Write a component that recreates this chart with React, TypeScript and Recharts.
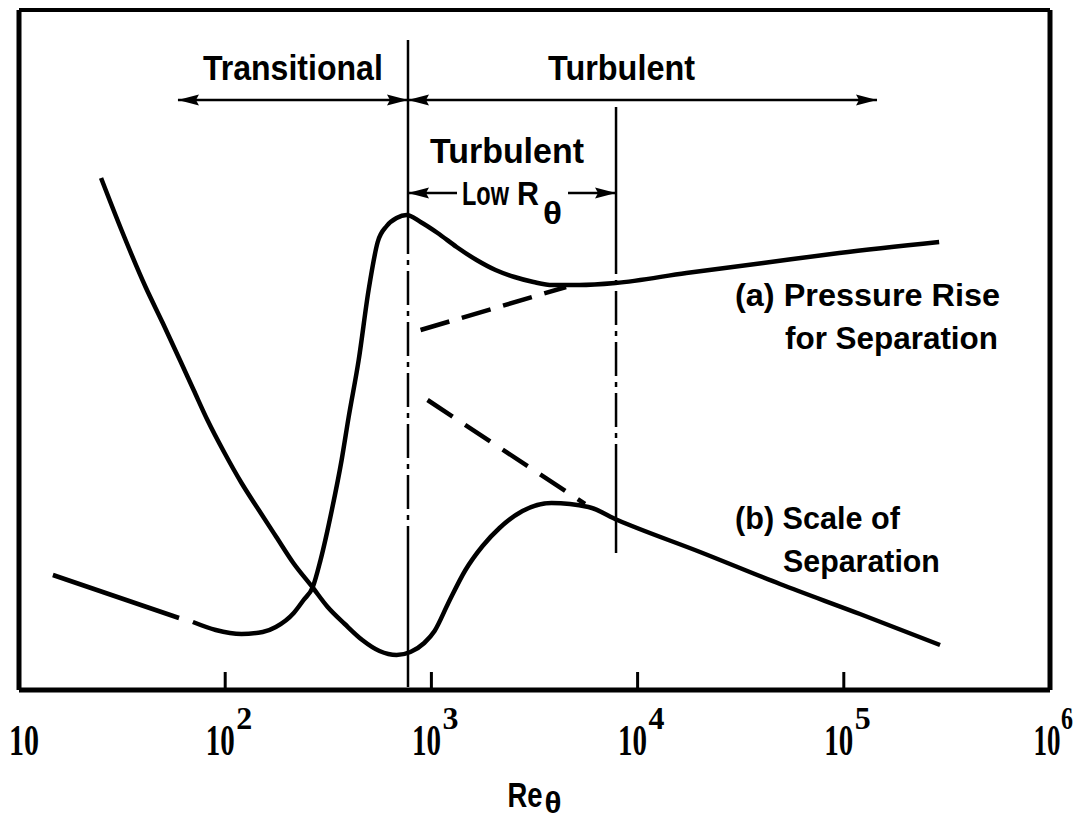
import React from "react";
import { LineChart, Line, XAxis, YAxis, ReferenceLine, ReferenceDot } from "recharts";

const SANS = "'Liberation Sans', Arial, Helvetica, sans-serif";
const SERIF = "'Liberation Serif', 'Times New Roman', serif";
const INK = "#000";

// Re_theta ticks on the log axis
const reTicks = [10, 100, 1000, 10000, 100000, 1000000];

// boundaries between regimes
const reTransition = 770;
const reLowEnd = 7860;

// (a) pressure rise for separation (ordinate in arbitrary units)
const pressureRiseLaminar = [
  { re: 14.6, v: 11.5 },
  { re: 59.7, v: 7.2 },
];
const pressureRise = [
  { re: 69.7, v: 6.8 },
  { re: 90, v: 6.0 },
  { re: 120, v: 5.6 },
  { re: 152, v: 5.8 },
  { re: 176, v: 6.3 },
  { re: 215, v: 7.7 },
  { re: 240, v: 9.0 },
  { re: 266, v: 10.3 },
  { re: 290, v: 13.0 },
  { re: 329, v: 18.0 },
  { re: 367, v: 23.0 },
  { re: 397, v: 27.3 },
  { re: 444, v: 33.0 },
  { re: 496, v: 40.0 },
  { re: 549, v: 44.8 },
  { re: 607, v: 46.4 },
  { re: 678, v: 47.2 },
  { re: 758, v: 47.5 },
  { re: 886, v: 46.8 },
  { re: 1072, v: 45.7 },
  { re: 1325, v: 44.3 },
  { re: 1656, v: 43.0 },
  { re: 2046, v: 42.0 },
  { re: 2530, v: 41.3 },
  { re: 3127, v: 40.8 },
  { re: 3866, v: 40.5 },
  { re: 5224, v: 40.5 },
  { re: 7806, v: 40.7 },
  { re: 17230, v: 41.7 },
  { re: 40690, v: 42.7 },
  { re: 95000, v: 43.7 },
  { re: 290000, v: 44.8 },
];
const pressureRiseExtension = [
  { re: 886, v: 36.0 },
  { re: 4500, v: 40.3 },
];

// (b) scale of separation
const scaleOfSeparation = [
  { re: 25, v: 51.2 },
  { re: 31.4, v: 46.0 },
  { re: 41.1, v: 40.3 },
  { re: 49.8, v: 36.7 },
  { re: 60.3, v: 33.0 },
  { re: 70.3, v: 30.0 },
  { re: 82, v: 27.0 },
  { re: 99.3, v: 23.7 },
  { re: 120, v: 20.7 },
  { re: 145.5, v: 18.0 },
  { re: 177, v: 15.3 },
  { re: 214, v: 12.7 },
  { re: 264.5, v: 10.3 },
  { re: 314, v: 8.3 },
  { re: 380, v: 6.6 },
  { re: 462, v: 5.0 },
  { re: 560, v: 3.9 },
  { re: 678, v: 3.5 },
  { re: 791, v: 3.8 },
  { re: 923, v: 4.7 },
  { re: 1036, v: 5.9 },
  { re: 1208, v: 8.7 },
  { re: 1463, v: 12.0 },
  { re: 1771, v: 14.4 },
  { re: 2140, v: 16.2 },
  { re: 2766, v: 17.9 },
  { re: 3823, v: 18.7 },
  { re: 5775, v: 18.3 },
  { re: 7984, v: 17.0 },
  { re: 20080, v: 13.8 },
  { re: 49050, v: 10.6 },
  { re: 119800, v: 7.6 },
  { re: 292900, v: 4.5 },
];
const scaleExtension = [
  { re: 958, v: 29.0 },
  { re: 5557, v: 18.6 },
];

// text annotations: left edge / baseline in data units
const annotations = [
  { text: "Transitional", re: 78, v: 61.0, size: 35, width: 180 },
  { text: "Turbulent", re: 3678, v: 61.0, size: 35, width: 147 },
  { text: "Turbulent", re: 984.5, v: 52.7, size: 35, width: 154 },
  { text: "(a) Pressure Rise", re: 29680, v: 38.4, size: 32, width: 265 },
  { text: "for Separation", re: 51860, v: 34.1, size: 32, width: 213 },
  { text: "(b) Scale of", re: 29680, v: 16.1, size: 32, width: 165 },
  { text: "Separation", re: 50720, v: 11.8, size: 32, width: 157 },
];

// measure natural text width so condensed labels can be squeezed with a transform
const measureCtx = typeof document !== "undefined" ? document.createElement("canvas").getContext("2d") : null;
const measure = (text: string, size: number, family: string) => {
  if (!measureCtx) return text.length * size * 0.55;
  measureCtx.font = `bold ${size}px ${family}`;
  return measureCtx.measureText(text).width;
};

const FitText = (props: any) => {
  const { x, y, text, size, width, family = SANS, anchor = "start" } = props;
  const sx = width ? Math.min(1.2, width / measure(text, size, family)) : 1;
  return (
    <text
      transform={`translate(${x},${y}) scale(${sx.toFixed(3)},1)`}
      fontFamily={family}
      fontWeight="bold"
      fontSize={size}
      textAnchor={anchor}
      fill={INK}
    >
      {text}
    </text>
  );
};

// arrow shaft + filled heads drawn from the segment end points
const makeArrow = (headStart: boolean, headEnd: boolean) => (props: any) => {
  const { x1, y1, x2, y2 } = props;
  const len = 21;
  const half = 5.5;
  const head = (tx: number, ty: number, dir: number, key: string) => {
    const bx = tx - dir * len;
    return (
      <polygon
        key={key}
        points={`${tx},${ty} ${bx},${ty - half} ${bx + dir * 3},${ty} ${bx},${ty + half}`}
        fill={INK}
      />
    );
  };
  const dir = Math.sign(x2 - x1) || 1;
  return (
    <g>
      <line x1={x1} y1={y1} x2={x2} y2={y2} stroke={INK} strokeWidth={2.5} />
      {headStart && head(x1, y1, -dir, "s")}
      {headEnd && head(x2, y2, dir, "e")}
    </g>
  );
};

const LowRTheta = (props: any) => {
  const { cx, cy } = props;
  return (
    <g>
      <FitText x={cx} y={cy} text="Low" size={34} width={47} />
      <FitText x={cx + 55} y={cy} text="R" size={34} width={22} />
      <FitText x={cx + 81} y={cy + 19} text="θ" size={31} width={19} />
    </g>
  );
};

const LogTick = (props: any) => {
  const { x, y, payload } = props;
  const exp = Math.round(Math.log10(payload.value));
  const base = y + 65;
  if (exp === 1) {
    return <FitText x={x + 5} y={base} text="10" size={44} width={30} family={SERIF} anchor="middle" />;
  }
  const last = exp === 6;
  return (
    <g>
      <FitText x={last ? x - 3 : x - 5} y={base} text="10" size={44} width={last ? 27 : 29} family={SERIF} anchor="middle" />
      <FitText x={last ? x + 11 : x + 11} y={base - 26} text={String(exp)} size={31} width={last ? 12 : 16} family={SERIF} />
    </g>
  );
};

const AxisTitle = (props: any) => {
  const { viewBox } = props;
  const cx = viewBox.x + viewBox.width / 2;
  const y = viewBox.y + 117;
  return (
    <g>
      <FitText x={cx - 27} y={y} text="Re" size={36} width={35} />
      <FitText x={cx + 10} y={y + 6} text="θ" size={29} width={17} />
    </g>
  );
};

export default function App() {
  const curve = { stroke: INK, strokeWidth: 4.5, dot: false, activeDot: false, isAnimationActive: false } as const;
  const dashDot = "34 6 5 6";
  return (
    <div style={{ position: "absolute", left: 0, top: 0, width: 1075, height: 820, background: "#fff" }}>
      <LineChart width={1075} height={820} margin={{ top: 10, right: 25, left: 19, bottom: 60 }}>
        <XAxis
          dataKey="re"
          type="number"
          scale="log"
          domain={[10, 1000000]}
          ticks={reTicks}
          interval={0}
          allowDataOverflow
          axisLine={false}
          tickLine={false}
          tickSize={0}
          tickMargin={0}
          height={70}
          tick={<LogTick />}
          label={{ content: (p: any) => <AxisTitle viewBox={p.viewBox} /> }}
        />
        <YAxis dataKey="v" type="number" domain={[0, 68]} hide width={0} allowDataOverflow />

        {/* frame */}
        <ReferenceLine x={10} stroke={INK} strokeWidth={5} />
        <ReferenceLine x={1000000} stroke={INK} strokeWidth={5} />
        <ReferenceLine y={0} stroke={INK} strokeWidth={5} />
        <ReferenceLine y={68} stroke={INK} strokeWidth={4} />
        {reTicks.slice(1, 5).map((t) => (
          <ReferenceLine key={t} segment={[{ x: t, y: 0 }, { x: t, y: 1.8 }]} stroke={INK} strokeWidth={3} />
        ))}

        {/* regime boundaries */}
        <ReferenceLine segment={[{ x: reTransition, y: 65 }, { x: reTransition, y: 47 }]} stroke={INK} strokeWidth={2.5} />
        <ReferenceLine segment={[{ x: reTransition, y: 47 }, { x: reTransition, y: 13 }]} stroke={INK} strokeWidth={2.5} strokeDasharray={dashDot} />
        <ReferenceLine segment={[{ x: reTransition, y: 13 }, { x: reTransition, y: 0.3 }]} stroke={INK} strokeWidth={2.5} />
        <ReferenceLine segment={[{ x: reLowEnd, y: 58.3 }, { x: reLowEnd, y: 45 }]} stroke={INK} strokeWidth={2.5} />
        <ReferenceLine segment={[{ x: reLowEnd, y: 45 }, { x: reLowEnd, y: 24.3 }]} stroke={INK} strokeWidth={2.5} strokeDasharray={dashDot} />
        <ReferenceLine segment={[{ x: reLowEnd, y: 24.3 }, { x: reLowEnd, y: 13.7 }]} stroke={INK} strokeWidth={2.5} />

        {/* regime arrows */}
        <ReferenceLine segment={[{ x: 59, y: 59 }, { x: reTransition, y: 59 }]} shape={makeArrow(true, true)} />
        <ReferenceLine segment={[{ x: reTransition, y: 59 }, { x: 144900, y: 59 }]} shape={makeArrow(true, true)} />
        <ReferenceLine segment={[{ x: reTransition, y: 49.7 }, { x: 1331, y: 49.7 }]} shape={makeArrow(true, false)} />
        <ReferenceLine segment={[{ x: 4598, y: 49.7 }, { x: reLowEnd, y: 49.7 }]} shape={makeArrow(false, true)} />

        {/* curves */}
        <Line data={pressureRiseLaminar} dataKey="v" type="linear" {...curve} />
        <Line data={pressureRise} dataKey="v" type="monotone" {...curve} />
        <Line data={pressureRiseExtension} dataKey="v" type="linear" {...curve} strokeDasharray="30 13" />
        <Line data={scaleOfSeparation} dataKey="v" type="monotone" {...curve} />
        <Line data={scaleExtension} dataKey="v" type="linear" {...curve} strokeDasharray="30 15" />

        {/* labels */}
        {annotations.map((a, i) => (
          <ReferenceDot
            key={i}
            x={a.re}
            y={a.v}
            r={1}
            shape={(p: any) => <FitText x={p.cx} y={p.cy} text={a.text} size={a.size} width={a.width} />}
          />
        ))}
        <ReferenceDot x={1407} y={48.5} r={1} shape={(p: any) => <LowRTheta cx={p.cx} cy={p.cy} />} />
      </LineChart>
    </div>
  );
}
